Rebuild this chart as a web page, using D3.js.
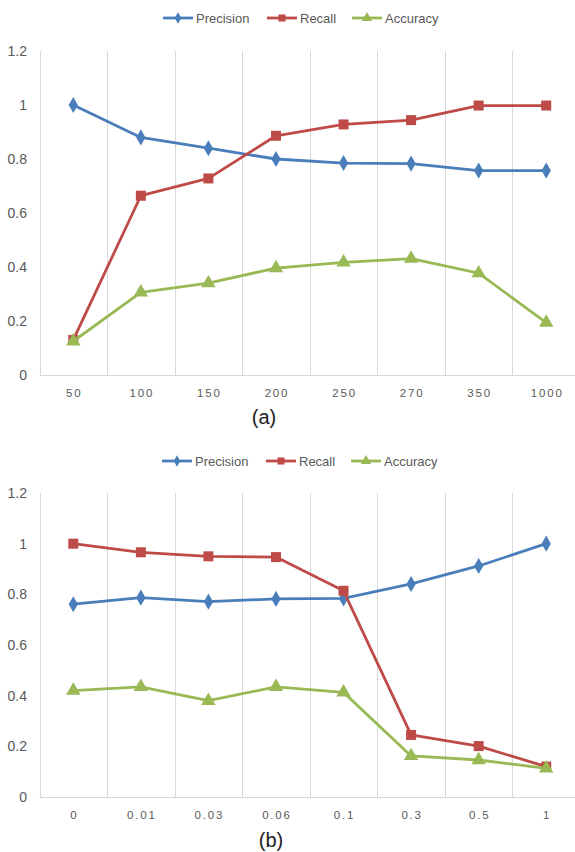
<!DOCTYPE html>
<html>
<head>
<meta charset="utf-8">
<script src="https://cdn.jsdelivr.net/npm/d3@7"></script>
<style>
  body { margin: 0; background: #fff; }
  text { font-family: "Liberation Sans", "DejaVu Sans", sans-serif; }
</style>
</head>
<body>
<div id="chart"></div>
<script>
// data
var seriesNames = ["Precision", "Recall", "Accuracy"];
var yTicks = [0, 0.2, 0.4, 0.6, 0.8, 1, 1.2];

var catsA = ["50", "100", "150", "200", "250", "270", "350", "1000"];
var precisionA = [1.0, 0.88, 0.84, 0.80, 0.785, 0.783, 0.757, 0.757];
var recallA = [0.13, 0.664, 0.728, 0.886, 0.928, 0.944, 0.998, 0.998];
var accuracyA = [0.125, 0.306, 0.34, 0.396, 0.417, 0.431, 0.377, 0.194];

var catsB = ["0", "0.01", "0.03", "0.06", "0.1", "0.3", "0.5", "1"];
var precisionB = [0.761, 0.787, 0.771, 0.782, 0.784, 0.841, 0.912, 1.0];
var recallB = [1.0, 0.966, 0.95, 0.947, 0.814, 0.245, 0.201, 0.12];
var accuracyB = [0.42, 0.435, 0.38, 0.435, 0.413, 0.162, 0.146, 0.113];

var colors = ["#4a7ebb", "#be4b48", "#98b954"];
var symbols = [d3.symbolDiamond, d3.symbolSquare, d3.symbolTriangle];
var symSizes = [75, 100, 90];

var W = 575, H = 852;
var svg = d3.select("#chart").append("svg").attr("width", W).attr("height", H);

function drawChart(o) {
  var g = svg.append("g");

  var x = d3.scaleBand().domain(o.cats).range([o.left, o.right]);
  var y = d3.scaleLinear().domain([0, 1.2]).range([o.bottom, o.top]);

  // vertical gridlines at category edges
  var edges = o.cats.map(function(c){ return x(c); }).concat([o.right]);
  g.selectAll(".grid").data(edges).enter().append("line")
    .attr("x1", function(d){ return Math.round(d) + 0.5; })
    .attr("x2", function(d){ return Math.round(d) + 0.5; })
    .attr("y1", y(1.2)).attr("y2", o.bottom)
    .attr("stroke", "#d9d9d9").attr("stroke-width", 1);

  // baseline
  g.append("line")
    .attr("x1", o.left).attr("x2", o.right)
    .attr("y1", Math.round(o.bottom) + 0.5).attr("y2", Math.round(o.bottom) + 0.5)
    .attr("stroke", "#d9d9d9");

  // y tick labels
  g.selectAll(".ytick").data(yTicks).enter().append("text")
    .attr("x", 27).attr("y", function(d){ return y(d); })
    .attr("dy", "0.35em").attr("text-anchor", "end")
    .attr("font-size", 14).attr("fill", "#595959")
    .text(function(d){ return d3.format("")(d); });

  // x tick labels
  g.selectAll(".xtick").data(o.cats).enter().append("text")
    .attr("x", function(d){ return x(d) + x.bandwidth() / 2 + 1; })
    .attr("y", o.bottom + 18)
    .attr("dy", "0.35em").attr("text-anchor", "middle")
    .attr("font-size", 11.5).attr("letter-spacing", "1.8px").attr("fill", "#595959")
    .text(function(d){ return d; });

  var line = d3.line()
    .x(function(d, i){ return x(o.cats[i]) + x.bandwidth() / 2; })
    .y(function(d){ return y(d); });

  o.series.forEach(function(vals, si){
    g.append("path").datum(vals)
      .attr("d", line)
      .attr("fill", "none").attr("stroke", colors[si])
      .attr("stroke-width", 2.8).attr("stroke-linejoin", "round");
    g.selectAll(".m" + si).data(vals).enter().append("path")
      .attr("transform", function(d, i){
        return "translate(" + (x(o.cats[i]) + x.bandwidth() / 2) + "," + y(d) + ")";
      })
      .attr("d", d3.symbol().type(symbols[si]).size(symSizes[si]))
      .attr("fill", colors[si]);
  });

  // legend
  var lx = [o.legendX, o.legendX + 104, o.legendX + 189];
  seriesNames.forEach(function(n, si){
    var lg = g.append("g").attr("transform", "translate(" + lx[si] + "," + o.legendY + ")");
    lg.append("line").attr("x1", 0).attr("x2", 30)
      .attr("stroke", colors[si]).attr("stroke-width", 2.8);
    lg.append("path").attr("transform", "translate(15,0)")
      .attr("d", d3.symbol().type(symbols[si]).size(symSizes[si] * 0.5))
      .attr("fill", colors[si]);
    lg.append("text").attr("x", 33).attr("dy", "0.35em")
      .attr("font-size", 13).attr("fill", "#595959").text(n);
  });

  // caption
  g.append("text").attr("x", o.capX).attr("y", o.capY)
    .attr("dy", "0.35em").attr("text-anchor", "middle")
    .attr("font-size", 20).attr("fill", "#222").text(o.caption);
}

drawChart({
  cats: catsA, series: [precisionA, recallA, accuracyA],
  left: 39.5, right: 580, top: 51, bottom: 375,
  legendX: 163, legendY: 18, caption: "(a)", capX: 264, capY: 417
});

drawChart({
  cats: catsB, series: [precisionB, recallB, accuracyB],
  left: 39.5, right: 580, top: 493, bottom: 797,
  legendX: 162, legendY: 461, caption: "(b)", capX: 271, capY: 840
});
</script>
</body>
</html>
